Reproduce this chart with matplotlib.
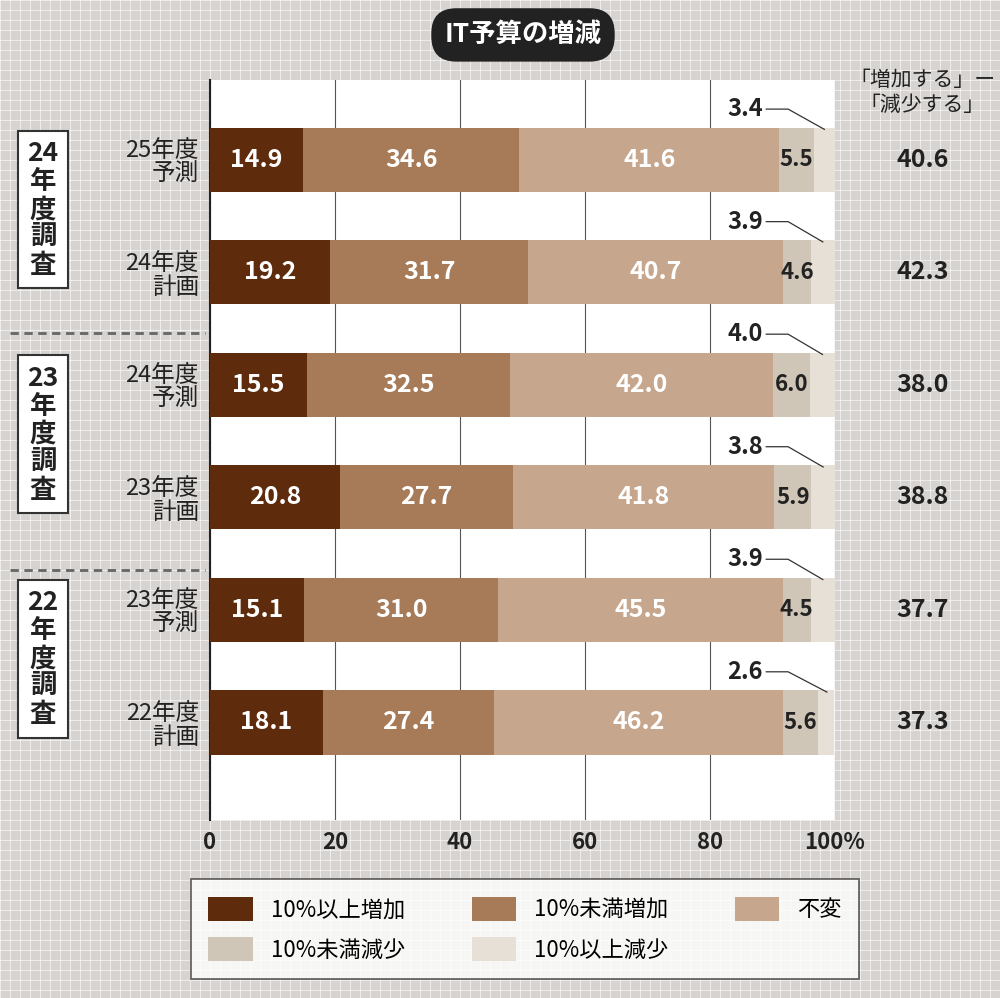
import matplotlib
matplotlib.use("Agg")
import matplotlib.pyplot as plt
from matplotlib.patches import Rectangle
import numpy as np

plt.rcParams["font.family"] = ["Noto Sans CJK JP"]

# data
rows = ["25年度\n予測", "24年度\n計画", "24年度\n予測", "23年度\n計画", "23年度\n予測", "22年度\n計画"]
inc_big = [14.9, 19.2, 15.5, 20.8, 15.1, 18.1]
inc_small = [34.6, 31.7, 32.5, 27.7, 31.0, 27.4]
same = [41.6, 40.7, 42.0, 41.8, 45.5, 46.2]
dec_small = [5.5, 4.6, 6.0, 5.9, 4.5, 5.6]
dec_big = [3.4, 3.9, 4.0, 3.8, 3.9, 2.6]
diff = [40.6, 42.3, 38.0, 38.8, 37.7, 37.3]
groups = ["24\n年\n度\n調\n査", "23\n年\n度\n調\n査", "22\n年\n度\n調\n査"]
series_names = ["10%以上増加", "10%未満増加", "不変", "10%未満減少", "10%以上減少"]
colors = ["#5e2c0c", "#a77a58", "#c6a68c", "#d0c6b8", "#e7e0d6"]

fig = plt.figure(figsize=(10, 9.98), dpi=100)

# patterned background
bg = fig.add_axes([0, 0, 1, 1], zorder=-10)
bg.set_xlim(0, 1000); bg.set_ylim(998, 0); bg.axis("off")
bg.add_patch(Rectangle((0, 0), 1000, 998, color="#d6d3d0"))
for v in np.arange(0, 1000, 10):
    bg.axvline(v, color="white", lw=0.6, alpha=0.7)
for v in np.arange(0, 998, 10):
    bg.axhline(v, color="white", lw=0.6, alpha=0.7)

ax = fig.add_axes([0.21, 0.178, 0.625, 0.742])
ax.set_facecolor("white")
y = np.arange(len(rows))
data = [inc_big, inc_small, same, dec_small, dec_big]
handles = []
left = np.zeros(len(rows))
for vals, c, name in zip(data, colors, series_names):
    h = ax.barh(y, vals, left=left, height=0.57, color=c, label=name, zorder=3)
    handles.append(h)
    left += np.array(vals)

left = np.zeros(len(rows))
for k, vals in enumerate(data[:4]):
    for i, v in enumerate(vals):
        if k == 3:
            ax.text(left[i] + v / 2, y[i], f"{v:.1f}", ha="center", va="center",
                    color="#222", fontsize=16, fontweight="bold", zorder=4)
        else:
            ax.text(left[i] + v / 2, y[i], f"{v:.1f}", ha="center", va="center",
                    color="white", fontsize=18, fontweight="bold", zorder=4)
    left += np.array(vals)

for i, v in enumerate(dec_big):
    xm = 100 - v / 2
    ax.plot([89, 92.5, xm], [y[i] - 0.45, y[i] - 0.45, y[i] - 0.27], color="#333", lw=0.9, zorder=5,
            clip_on=False)
    ax.text(88.5, y[i] - 0.45, f"{v:.1f}", ha="right", va="center", fontsize=17,
            fontweight="bold", color="#222", zorder=5)
    ax.text(114, y[i], f"{diff[i]:.1f}", ha="center", va="center", fontsize=18,
            fontweight="bold", color="#222", clip_on=False)

ax.set_xlim(0, 100)
ax.set_ylim(5.87, -0.71)
ax.set_xticks([0, 20, 40, 60, 80, 100])
ax.set_xticklabels(["0", "20", "40", "60", "80", "100%"], fontsize=16, fontweight="bold", color="#222")
ax.set_yticks(y)
ax.set_yticklabels(rows, fontsize=17, color="#222", linespacing=1.05)
ax.tick_params(length=0, pad=8)
ax.grid(axis="x", color="#555", lw=0.8, zorder=1)
for s in ["top", "right", "bottom"]:
    ax.spines[s].set_visible(False)
ax.spines["left"].set_color("#222")
ax.spines["left"].set_linewidth(1.5)

ax.text(114, -0.6, "「増加する」ー\n「減少する」", ha="center", va="center", fontsize=15,
        color="#222", clip_on=False, linespacing=1.15)

# group boxes
for g, yc in zip(groups, [0.79, 0.565, 0.34]):
    fig.text(0.043, yc, g, ha="center", va="center", fontsize=19, fontweight="bold",
             color="#222", linespacing=1.05,
             bbox=dict(boxstyle="square,pad=0.35", fc="white", ec="#333", lw=1.5))
for yl in [1 - 333 / 998, 1 - 570 / 998]:
    fig.add_artist(plt.Line2D([0.01, 0.205], [yl, yl], color="#666", lw=2, ls=(0, (3, 2))))

# title
fig.text(0.523, 0.965, "IT予算の増減", ha="center", va="center", fontsize=19, fontweight="bold",
         color="white", bbox=dict(boxstyle="round,pad=0.5,rounding_size=0.95", fc="#222", ec="none"))

# legend filled row-wise: reorder for column-major layout
order = [0, 3, 1, 4, 2]
leg = fig.legend([handles[i] for i in order], [series_names[i] for i in order],
                 loc="center", bbox_to_anchor=(0.525, 0.069), ncol=3, fontsize=16,
                 frameon=True, fancybox=False, edgecolor="#333", handlelength=2.0,
                 handleheight=1.3, columnspacing=3.0, borderpad=0.8, labelspacing=0.7)
leg.get_frame().set_linewidth(1.2)

fig.savefig("out.png", dpi=100, facecolor="white")
